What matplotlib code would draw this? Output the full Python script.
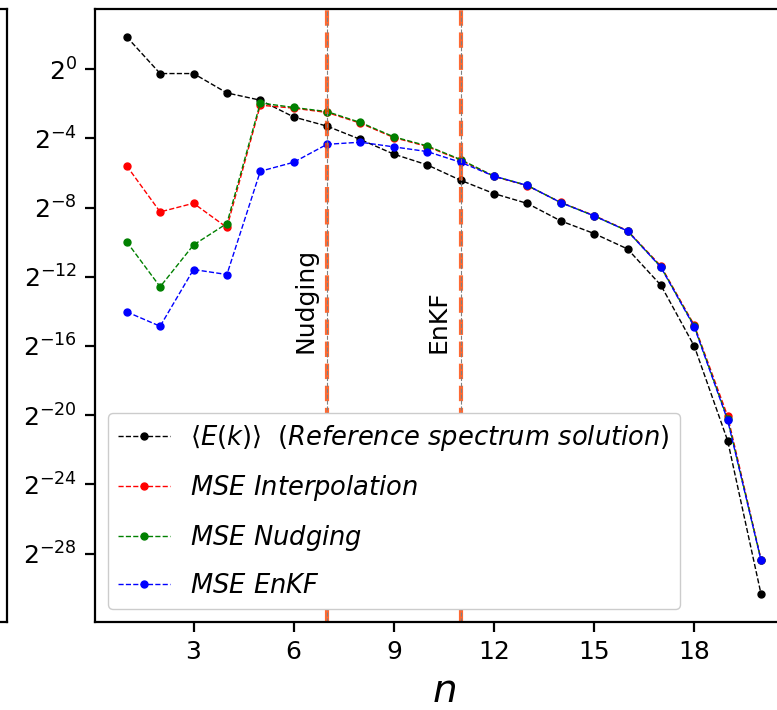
import numpy as np
from matplotlib import pyplot as plt
from matplotlib.ticker import LogFormatterMathtext, NullLocator

# wavenumbers and log2 of the values
n = list(range(1, 21))
log2_energy = [1.87, -0.25, -0.25, -1.37, -1.79, -2.76, -3.29, -4.06, -4.91, -5.53,
               -6.42, -7.19, -7.76, -8.77, -9.50, -10.39, -12.49, -16.01, -21.48, -30.35]
log2_interp = [-5.59, -8.25, -7.75, -9.15, -2.08, -2.25, -2.50, -3.12, -3.95, -4.47,
               -5.25, -6.20, -6.73, -7.70, -8.46, -9.33, -11.38, -14.80, -20.06, -28.35]
log2_nudging = [-9.98, -12.58, -10.16, -8.92, -1.95, -2.21, -2.45, -3.08, -3.91, -4.43,
                -5.22, -6.18, -6.72, -7.71, -8.48, -9.35, -11.43, -14.86, -20.25, -28.38]
log2_enkf = [-14.03, -14.86, -11.58, -11.87, -5.90, -5.38, -4.34, -4.22, -4.49, -4.76,
             -5.38, -6.18, -6.72, -7.71, -8.48, -9.35, -11.45, -14.90, -20.30, -28.40]
labels = [r'$\langle E(k) \rangle$  $(Reference\ spectrum\ solution)$',
          r'$MSE\ Interpolation$', r'$MSE\ Nudging$', r'$MSE\ EnKF$']
colors = ['black', 'red', 'green', 'blue']
vlines = [7, 11]
vline_text = ['Nudging', 'EnKF']

fig = plt.figure(figsize=(7.77, 7.10), dpi=100)

# neighbouring panel, only its right edge shows
ax0 = fig.add_axes([-0.5, 0.1239, 0.509, 0.8634])
ax0.set_xticks([])
ax0.set_yticks([])
for s in ax0.spines.values():
    s.set_linewidth(1.6)

ax = fig.add_axes([0.1223, 0.1239, 0.898, 0.8634])
series = [log2_energy, log2_interp, log2_nudging, log2_enkf]
for vals, c, lab in zip(series, colors, labels):
    ax.plot(n, 2.0 ** np.array(vals), '--', color=c, marker='o', ms=5, lw=1, label=lab)

ax.set_yscale('log', base=2)
for xv, txt in zip(vlines, vline_text):
    ax.axvline(xv, color='orangered', ls='--', lw=3, alpha=0.8)
    ax.axvline(xv, color='gray', ls='--', lw=0.8)
    ax.text(xv - 0.65, 2.0 ** -16.4, txt, rotation=90, ha='center', va='bottom', fontsize=18)

ax.set_yticks([2.0 ** e for e in range(-28, 1, 4)])
ax.yaxis.set_major_formatter(LogFormatterMathtext(base=2))
ax.yaxis.set_minor_locator(NullLocator())
ax.set_xticks([3, 6, 9, 12, 15, 18])
ax.tick_params(labelsize=18, length=7, width=1.6, pad=6)
for s in ax.spines.values():
    s.set_linewidth(1.6)
ax.set_xlabel(r'$n$', fontsize=28, labelpad=6)

ax.legend(loc='lower left', fontsize=18.5, labelspacing=0.78, framealpha=1)

fig.savefig('out.png', dpi=100)
